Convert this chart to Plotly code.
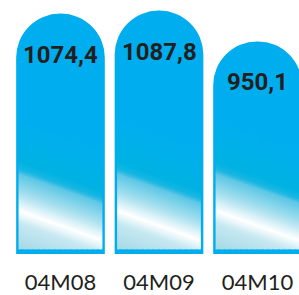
import plotly.graph_objects as go

# ---- data ----
categories = ["04M08", "04M09", "04M10"]
values = [1074.4, 1087.8, 950.1]
value_labels = [f"{v:.1f}".replace(".", ",") for v in values]

# ---- style / layout constants ----
W, H = 299, 295
MARGIN_B = 31
PLOT_H = H - MARGIN_B
X_RANGE = [-0.614, 2.421]
Y_RANGE = [0, 1135.2]
BAR_WIDTH = 0.9
BLUE = "#00AEEF"
TEXT = "#231F20"

# gradient (pixel distances from top of plot, measured at inner-left edge of bar)
SLOPE = 0.37          # px down per px to the right
FRAME_SIDE = 2.5      # px
FRAME_BOTTOM = 5      # px
STOPS = [(120, "#00AEEF"), (168, "#00B2E2"), (176, "#1AB7E2"), (181, "#5EC8E6"),
         (200, "#A6DFEE"), (219, "#FFFFFF"), (222, "#F2FAFC"), (232, "#C6E8F1"),
         (262, "#A2D7E5"), (320, "#A2D7E5")]


def hex2rgb(h):
    h = h.lstrip("#")
    return [int(h[i:i + 2], 16) for i in (0, 2, 4)]


def grad(d):
    if d <= STOPS[0][0]:
        return STOPS[0][1]
    for (d0, c0), (d1, c1) in zip(STOPS, STOPS[1:]):
        if d0 <= d <= d1:
            t = (d - d0) / (d1 - d0)
            a, b = hex2rgb(c0), hex2rgb(c1)
            r = [round(a[k] + (b[k] - a[k]) * t) for k in range(3)]
            return "rgb(%d,%d,%d)" % tuple(r)
    return STOPS[-1][1]


def px_x(xd):
    return (xd - X_RANGE[0]) / (X_RANGE[1] - X_RANGE[0]) * W


def dx(px):
    return X_RANGE[0] + px / W * (X_RANGE[1] - X_RANGE[0])


def dy(py):
    return Y_RANGE[1] - py / PLOT_H * (Y_RANGE[1] - Y_RANGE[0])


def clip_below(poly, ymax):
    out = []
    n = len(poly)
    for i in range(n):
        p, q = poly[i], poly[(i + 1) % n]
        pin, qin = p[1] <= ymax, q[1] <= ymax
        if pin:
            out.append(p)
        if pin != qin:
            t = (ymax - p[1]) / (q[1] - p[1])
            out.append((p[0] + t * (q[0] - p[0]), ymax))
    return out


xs_idx = list(range(len(categories)))

fig = go.Figure()
fig.add_trace(go.Bar(
    x=xs_idx, y=values, width=BAR_WIDTH,
    marker=dict(color=BLUE, line=dict(width=0), cornerradius="50%"),
    hoverinfo="skip", showlegend=False,
))

# diagonal glossy gradient, built from bands over each bar's lower part
STEP = 2
d = STOPS[0][0]
while d < STOPS[-1][0]:
    c = grad(d + STEP / 2)
    xs, ys = [], []
    for i in xs_idx:
        xl = px_x(i - BAR_WIDTH / 2) + FRAME_SIDE
        xr = px_x(i + BAR_WIDTH / 2) - FRAME_SIDE
        w = xr - xl
        d2 = d + STEP + 1
        poly = [(xl, d), (xr, d + SLOPE * w), (xr, d2 + SLOPE * w), (xl, d2)]
        poly = clip_below(poly, PLOT_H - FRAME_BOTTOM)
        if len(poly) < 3:
            continue
        for (px, py) in poly + [poly[0]]:
            xs.append(dx(px))
            ys.append(dy(py))
        xs.append(None)
        ys.append(None)
    if xs:
        fig.add_trace(go.Scatter(
            x=xs, y=ys, mode="lines", line=dict(width=0), fill="toself",
            fillcolor=c, hoverinfo="skip", showlegend=False,
        ))
    d += STEP

for i, (v, lab) in enumerate(zip(values, value_labels)):
    fig.add_annotation(
        x=i, y=v, text=lab, showarrow=False, yshift=-41,
        font=dict(family="Roboto", size=24, color=TEXT, weight="bold"),
    )

fig.update_layout(
    width=W, height=H,
    margin=dict(l=0, r=0, t=0, b=MARGIN_B, pad=0),
    paper_bgcolor="white", plot_bgcolor="white",
    barmode="overlay", showlegend=False,
    xaxis=dict(range=X_RANGE, tickvals=xs_idx, ticktext=categories,
               showgrid=False, zeroline=False, showline=False, ticks="",
               ticklabelstandoff=13,
               tickfont=dict(family="Lato", size=22, color=TEXT),
               fixedrange=True),
    yaxis=dict(range=Y_RANGE, visible=False, fixedrange=True),
)

fig.write_html("out.html", config={"displayModeBar": False},
               post_script="document.body.style.margin='0';document.body.style.overflow='hidden';")
